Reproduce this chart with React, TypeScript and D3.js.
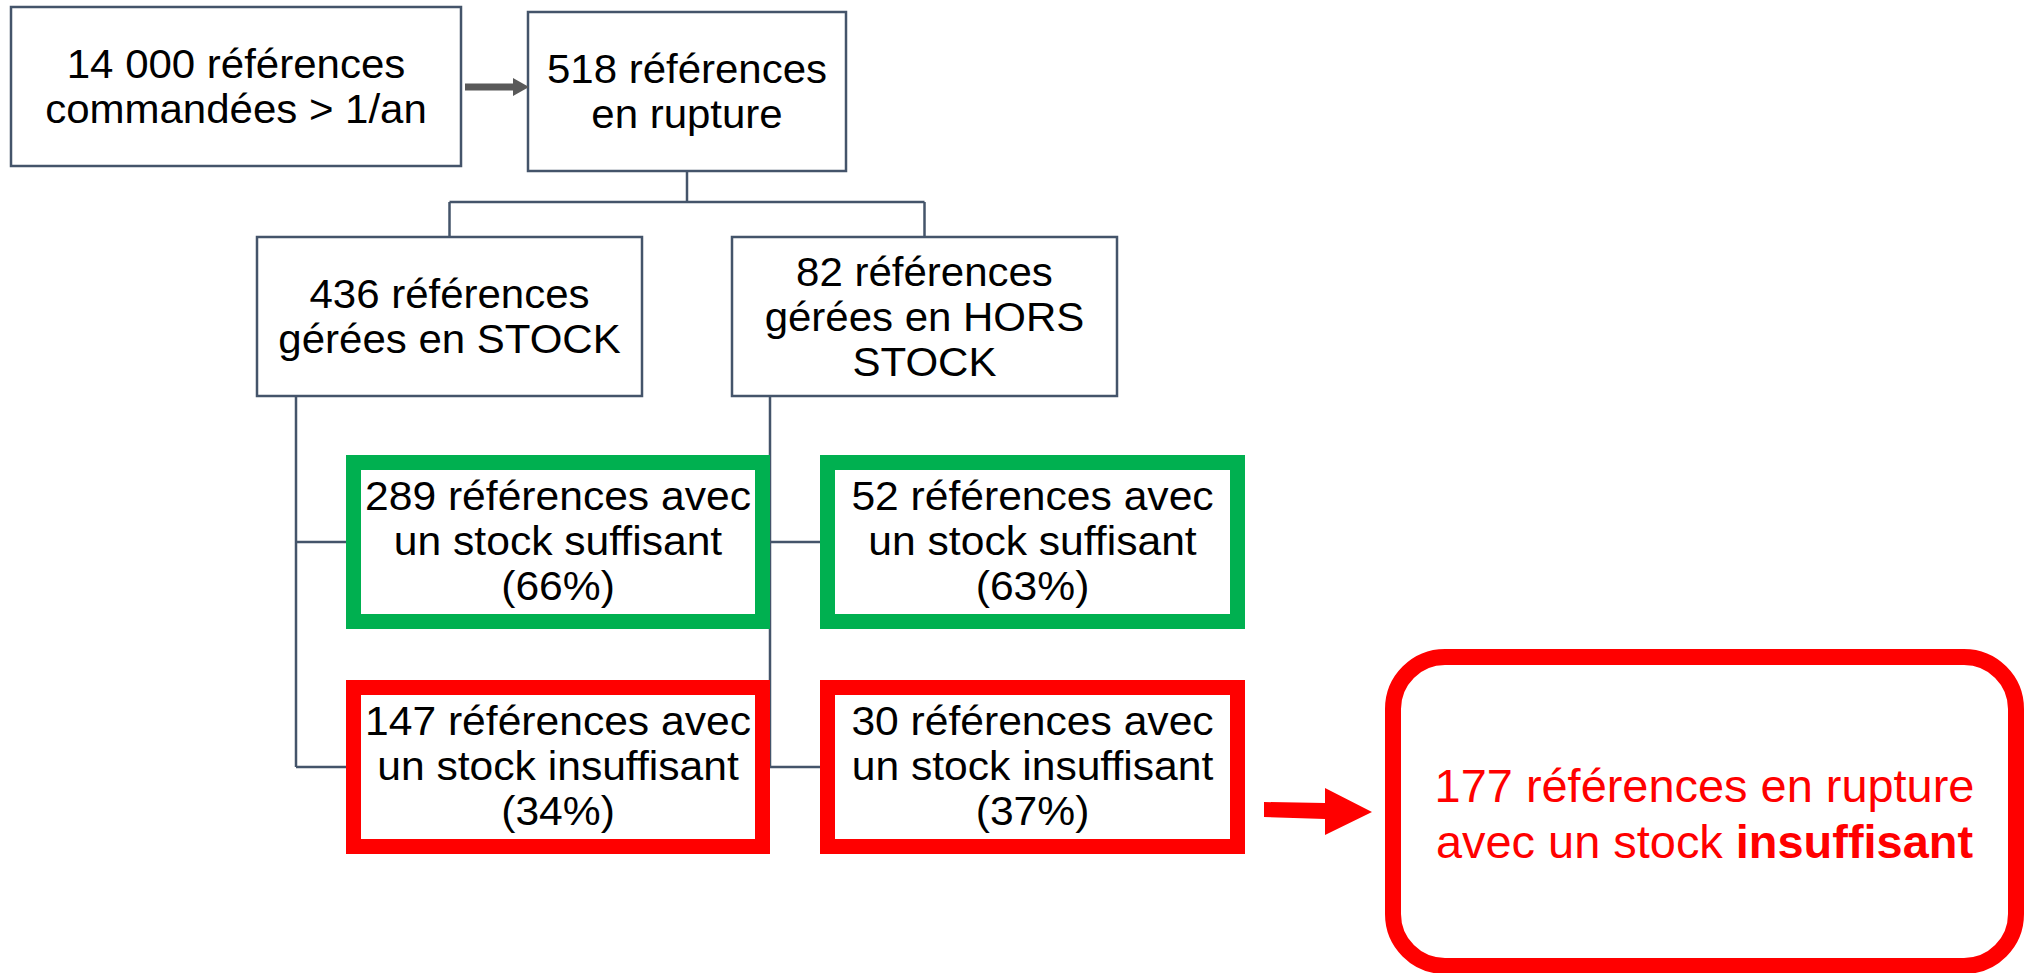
import React from "react";
import * as d3 from "d3";

// ---------- data ----------
const topLabels: string[][] = [
  ["14 000 références", "commandées > 1/an"],
  ["518 références", "en rupture"],
];
const branchLabels: string[][] = [
  ["436 références", "gérées en STOCK"],
  ["82 références", "gérées en HORS", "STOCK"],
];
const counts = { stockOk: 289, stockKo: 147, horsOk: 52, horsKo: 30 };
const pctLabels = { stockOk: "66%", stockKo: "34%", horsOk: "63%", horsKo: "37%" };
const summaryCount = 177;

// ---------- layout ----------
const W = 2029;
const H = 973;
const LINE = "#44546A";
const GREEN = "#00B050";
const RED = "#FF0000";
const FONT = "'Liberation Sans', Arial, sans-serif";

type Box = { x0: number; y0: number; x1: number; y1: number };
const topBoxes: Box[] = [
  { x0: 11, y0: 7, x1: 461, y1: 166 },
  { x0: 528, y0: 12, x1: 846, y1: 171 },
];
const branchBoxes: Box[] = [
  { x0: 257, y0: 237, x1: 642, y1: 396 },
  { x0: 732, y0: 237, x1: 1117, y1: 396 },
];
// outer edges of thick boxes
const colX = [
  [346, 770],
  [820, 1245],
];
const rowY = [
  [455, 629],
  [680, 854],
];
const trunkX = [296, 770];

const FS = 40;
const LH = 45;
const SX = 1.05;

function MultiText({ lines, cx, cy, fs = FS, lh = LH, sx = SX, fill = "#000" }: any) {
  const n = lines.length;
  return (
    <g transform={`translate(${cx},0) scale(${sx},1)`}>
      {lines.map((l: any, i: number) => (
        <text
          key={i}
          x={0}
          y={cy + (i - (n - 1) / 2) * lh + 0.36 * fs}
          textAnchor="middle"
          fontFamily={FONT}
          fontSize={fs}
          fill={fill}
        >
          {l}
        </text>
      ))}
    </g>
  );
}

export default function App() {
  const line = d3.line<[number, number]>();
  const poly = (pts: [number, number][]) => line(pts) + "Z";

  const thin = (b: Box, i: number) => (
    <rect
      key={i}
      x={b.x0}
      y={b.y0}
      width={b.x1 - b.x0}
      height={b.y1 - b.y0}
      fill="#fff"
      stroke={LINE}
      strokeWidth={2.5}
    />
  );

  const midTop = (topBoxes[1].x0 + topBoxes[1].x1) / 2;
  const busY = 202;
  const bx0 = (branchBoxes[0].x0 + branchBoxes[0].x1) / 2;
  const bx1 = (branchBoxes[1].x0 + branchBoxes[1].x1) / 2;
  const rowMid = rowY.map((r) => (r[0] + r[1]) / 2);

  const connectors: [number, number][][] = [
    [[midTop, topBoxes[1].y1], [midTop, busY]],
    [[bx0, busY], [bx1, busY]],
    [[bx0, busY], [bx0, branchBoxes[0].y0]],
    [[bx1, busY], [bx1, branchBoxes[1].y0]],
  ];
  trunkX.forEach((tx, c) => {
    connectors.push([[tx, branchBoxes[c].y1], [tx, rowMid[1]]]);
    rowMid.forEach((ry) => connectors.push([[tx, ry], [colX[c][0], ry]]));
  });

  const thickSW = 15;
  const cells = [
    { c: 0, r: 0, color: GREEN, n: counts.stockOk, p: pctLabels.stockOk, ok: true },
    { c: 1, r: 0, color: GREEN, n: counts.horsOk, p: pctLabels.horsOk, ok: true },
    { c: 0, r: 1, color: RED, n: counts.stockKo, p: pctLabels.stockKo, ok: false },
    { c: 1, r: 1, color: RED, n: counts.horsKo, p: pctLabels.horsKo, ok: false },
  ];

  // grey arrow between top boxes
  const ay = 87;
  const greyArrow: [number, number][] = [
    [465, ay - 3.5], [513, ay - 3.5], [513, ay - 9], [529, ay],
    [513, ay + 9], [513, ay + 3.5], [465, ay + 3.5],
  ];
  // red arrow
  const redArrow: [number, number][] = [
    [1264, 802], [1325, 803], [1325, 788], [1372, 812],
    [1325, 835], [1325, 819], [1264, 817],
  ];

  const sum = { x: 1393, y: 657, w: 623, h: 309 };
  const sumCx = sum.x + sum.w / 2;
  const sumCy = sum.y + sum.h / 2;
  const sfs = 46;
  const slh = 56;

  return (
    <svg
      width={W}
      height={H}
      viewBox={`0 0 ${W} ${H}`}
      style={{ position: "absolute", left: 0, top: 0, background: "#fff" }}
    >
      <rect x={0} y={0} width={W} height={H} fill="#fff" />
      {connectors.map((pts, i) => (
        <path key={i} d={line(pts) || ""} stroke={LINE} strokeWidth={2.5} fill="none" />
      ))}
      {topBoxes.map(thin)}
      {branchBoxes.map((b, i) => thin(b, i + 10))}
      <path d={poly(greyArrow)} fill="#595959" />

      {topBoxes.map((b, i) => (
        <MultiText key={i} lines={topLabels[i]} cx={(b.x0 + b.x1) / 2} cy={(b.y0 + b.y1) / 2} />
      ))}
      {branchBoxes.map((b, i) => (
        <MultiText key={i} lines={branchLabels[i]} cx={(b.x0 + b.x1) / 2} cy={(b.y0 + b.y1) / 2} />
      ))}

      {cells.map((cell, i) => {
        const [x0, x1] = colX[cell.c];
        const [y0, y1] = rowY[cell.r];
        const h = thickSW / 2;
        return (
          <g key={i}>
            <rect
              x={x0 + h}
              y={y0 + h}
              width={x1 - x0 - thickSW}
              height={y1 - y0 - thickSW}
              fill="#fff"
              stroke={cell.color}
              strokeWidth={thickSW}
            />
            <MultiText
              lines={[
                `${cell.n} références avec`,
                cell.ok ? "un stock suffisant" : "un stock insuffisant",
                `(${cell.p})`,
              ]}
              cx={(x0 + x1) / 2}
              cy={(y0 + y1) / 2 - 1}
              sx={1.065}
            />
          </g>
        );
      })}

      <path d={poly(redArrow)} fill={RED} />
      <rect
        x={sum.x}
        y={sum.y}
        width={sum.w}
        height={sum.h}
        rx={52}
        ry={52}
        fill="#fff"
        stroke={RED}
        strokeWidth={16}
      />
      <g transform={`translate(${sumCx},0) scale(1.02,1)`}>
        <text
          x={0}
          y={sumCy - slh / 2 + 0.4 * sfs}
          textAnchor="middle"
          fontFamily={FONT}
          fontSize={sfs}
          fill={RED}
        >
          {`${summaryCount} références en rupture`}
        </text>
        <text
          x={0}
          y={sumCy + slh / 2 + 0.4 * sfs}
          textAnchor="middle"
          fontFamily={FONT}
          fontSize={sfs}
          fill={RED}
        >
          avec un stock <tspan fontWeight="bold">insuffisant</tspan>
        </text>
      </g>
    </svg>
  );
}
